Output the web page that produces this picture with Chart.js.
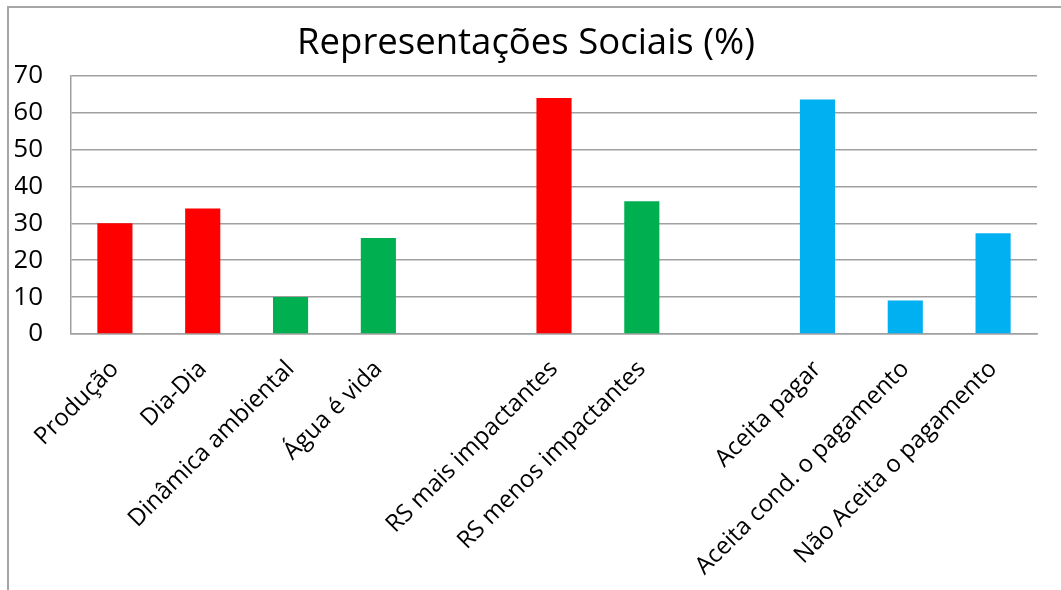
<!DOCTYPE html>
<html>
<head>
<meta charset="utf-8">
<script src="https://cdn.jsdelivr.net/npm/chart.js@4/dist/chart.umd.min.js"></script>
<style>
  html, body { margin: 0; padding: 0; background: #fff; }
  #wrap { position: relative; width: 1061px; height: 590px; overflow: hidden; }
  #frame { position: absolute; left: 7px; top: 6px; width: 1200px; height: 700px;
           border: 2px solid #a6a6a6; box-sizing: border-box; pointer-events: none; }
  canvas { position: absolute; left: 0; top: 0; }
</style>
</head>
<body>
<div id="wrap">
  <canvas id="c" width="1061" height="590"></canvas>
  <div id="frame"></div>
</div>
<script>
const categories = [
  'Produção', 'Dia-Dia', 'Dinâmica ambiental', 'Água é vida', '',
  'RS mais impactantes', 'RS menos impactantes', '',
  'Aceita pagar', 'Aceita cond. o pagamento', 'Não Aceita o pagamento'
];
const values = [30, 34, 10, 26, null, 64, 36, null, 63.6, 9.1, 27.3];
const groups = ['r', 'r', 'g', 'g', '', 'r', 'g', '', 'b', 'b', 'b'];
const yTicks = [0, 10, 20, 30, 40, 50, 60, 70];
const titleText = 'Representações Sociais (%)';

const palette = { r: '#ff0000', g: '#00b050', b: '#00b0f0', '': '#ffffff' };
const gridColor = '#a0a0a0';

new Chart(document.getElementById('c'), {
  type: 'bar',
  data: {
    labels: categories,
    datasets: [{
      data: values,
      backgroundColor: groups.map(g => palette[g]),
      borderWidth: 0,
      barPercentage: 1.0,
      categoryPercentage: 0.4
    }]
  },
  options: {
    responsive: false,
    devicePixelRatio: 1,
    animation: false,
    layout: { padding: { left: 15, right: 24, top: 0, bottom: 0 } },
    plugins: {
      legend: { display: false },
      tooltip: { enabled: false },
      title: {
        display: true,
        text: titleText,
        color: '#000',
        font: { family: 'Open Sans', size: 36.5, weight: 'normal' },
        padding: { top: 22, bottom: 10 }
      }
    },
    scales: {
      y: {
        min: 0, max: 70,
        afterBuildTicks: s => { s.ticks = yTicks.map(v => ({ value: v })); },
        afterFit: s => { s.width = 56; },
        ticks: {
          color: '#000',
          padding: 28,
          font: { family: 'Open Sans', size: 26 }
        },
        grid: { color: gridColor, lineWidth: 1.5, drawTicks: false },
        border: { color: gridColor, width: 1.5 }
      },
      x: {
        afterFit: s => { s.height = 256; },
        ticks: {
          autoSkip: false,
          maxRotation: 45,
          minRotation: 45,
          padding: 21,
          color: '#000',
          font: { family: 'Open Sans', size: 24 }
        },
        grid: { display: false, drawTicks: false },
        border: { color: gridColor, width: 1.5 }
      }
    }
  }
});
</script>
</body>
</html>
